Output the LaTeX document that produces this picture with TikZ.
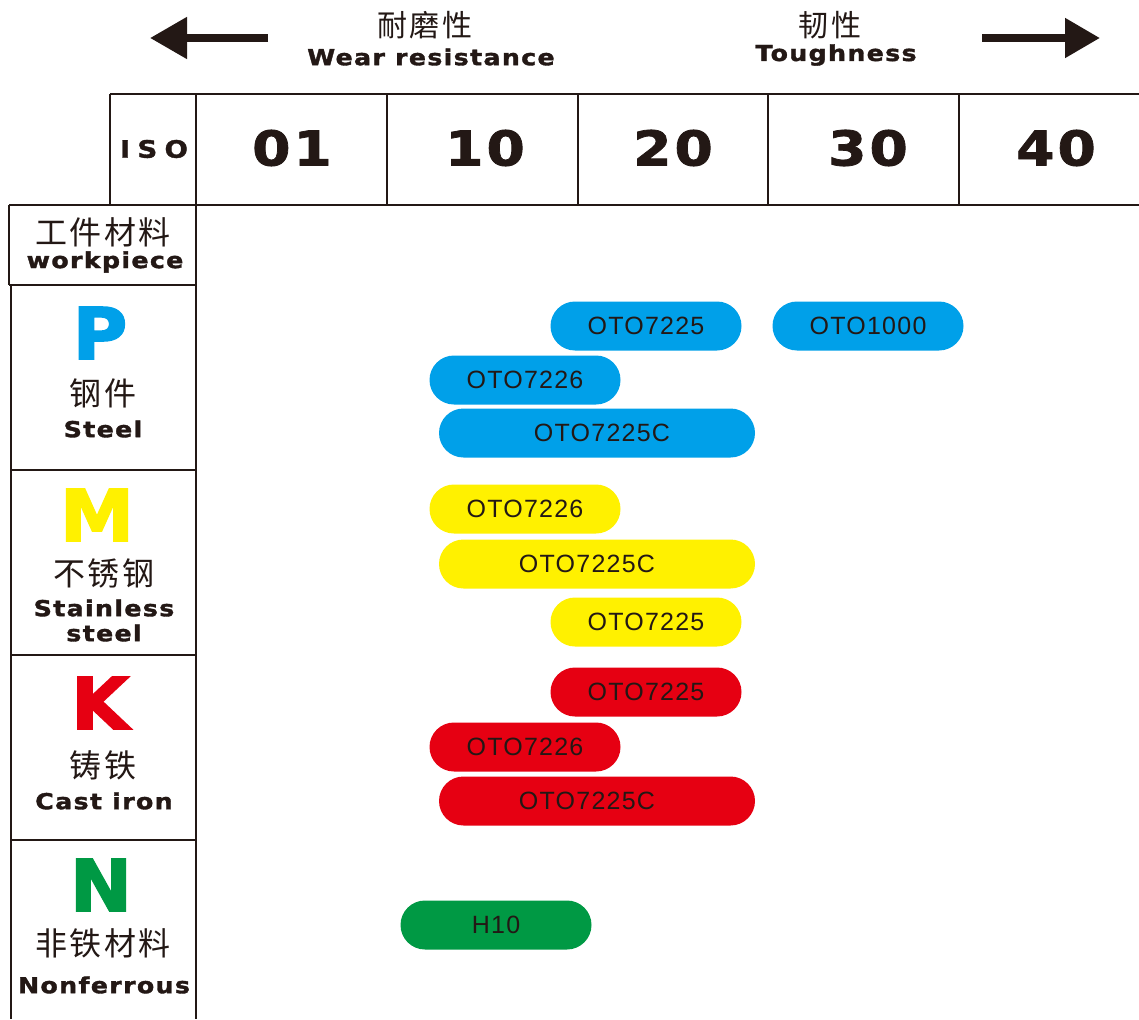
\documentclass[tikz,border=0pt]{standalone}
\usepackage{fontspec}
\usetikzlibrary{arrows.meta}
\setmainfont{Liberation Sans}
\newfontfamily\cjkfont[LetterSpace=8]{Noto Sans CJK SC}
\newfontfamily\heavyfont[FakeStretch=1.15,LetterSpace=6,FakeBold=1.6]{DejaVu Sans Bold}
\newfontfamily\isofont[FakeStretch=1.15,LetterSpace=30,FakeBold=1.6]{DejaVu Sans Bold}
\newfontfamily\letterfont[FakeStretch=1.05,FakeBold=2.5]{DejaVu Sans Bold}
\newfontfamily\pillfont[LetterSpace=5]{Liberation Sans}
\newcommand\setfs[1]{\fontsize{#1}{#1}\selectfont}
\definecolor{ink}{HTML}{231815}
\definecolor{oblue}{HTML}{00A0E9}
\definecolor{oyellow}{HTML}{FFF100}
\definecolor{ored}{HTML}{E60012}
\definecolor{ogreen}{HTML}{009944}

\begin{document}
\begin{tikzpicture}[x=1pt,y=-1pt,line width=1.4pt]
    \tikzstyle{every node}=[inner sep=0pt,text=ink]
    \tikzstyle{pill}=[rounded corners=24.5pt,minimum width=191pt,minimum height=49pt,font=\pillfont\setfs{25}]
    \tikzstyle{wide}=[minimum width=316pt]
    \tikzstyle{zh}=[font=\cjkfont\setfs{32}]
    \tikzstyle{en}=[font=\heavyfont\setfs{22}]
    \useasboundingbox[fill=white] (0,0) rectangle (1139,1019);

    % direction arrows
    \coordinate (wear end) at (268,38);
    \coordinate (wear tip) at (150,38);
    \coordinate (tough end) at (982,38);
    \coordinate (tough tip) at (1100,38);
    \draw[ink,line width=8pt,-{Triangle[length=37pt,width=40pt]}] (wear end)--(wear tip);
    \draw[ink,line width=8pt,-{Triangle[length=35pt,width=38pt]}] (tough end)--(tough tip);
    \node[zh,font=\cjkfont\setfs{30}] (wear zh) at (425,25) {耐磨性};
    \node[en] (wear en) at (431,57) {Wear resistance};
    \node[zh,font=\cjkfont\setfs{30}] (tough zh) at (830,25) {韧性};
    \node[en] (tough en) at (836,55) {Toughness};

    % table lines
    \draw[ink] (110,94)--(1139,94) (9,205)--(1139,205) (110,94)--(110,205);
    \foreach \x in {196,387,578,768,959}
        {
            \draw[ink](\x,94)--(\x,205);
        }
    \draw[ink] (9,205)--(9,285) (196,205)--(196,1019) (11,285)--(11,1019);
    \draw[ink] (9,285)--(196,285);
    \foreach \y in {470,655,840}
        {
            \draw[ink](11,\y)--(196,\y);
        }

    % iso grades
    \node (iso) at (154,149) {\isofont\setfs{24}ISO};
    \foreach \x/\g in {292/01,485/10,673/20,868/30,1056/40}
        {
            \node (grade\g) at (\x,148) {\heavyfont\setfs{48}\g};
        }

    % workpiece groups
    \node[zh] (wp zh) at (103,232) {工件材料};
    \node[en] (wp en) at (105,262) {workpiece};
    \node[text=oblue] (P) at (100,333) {\letterfont\setfs{71}P};
    \node[zh] (P zh) at (103,393) {钢件};
    \node[en] (P en) at (103,429) {Steel};
    \node[text=oyellow] (M) at (97,515) {\letterfont\setfs{71}M};
    \node[zh] (M zh) at (104,573) {不锈钢};
    \node[en] (M en) at (104,608) {Stainless};
    \node[en] (M en2) at (104,633) {steel};
    \node[text=ored] (K) at (100,703) {\letterfont\setfs{71}K};
    \node[zh] (K zh) at (103,765) {铸铁};
    \node[en] (K en) at (104,801) {Cast iron};
    \node[text=ogreen] (N) at (101,885) {\letterfont\setfs{71}N};
    \node[zh] (N zh) at (103,943) {非铁材料};
    \node[en] (N en) at (104,985) {Nonferrous};

    % grades of P
    \node[pill,fill=oblue] (P7225) at (646,326) {OTO7225};
    \node[pill,fill=oblue] (P1000) at (868,326) {OTO1000};
    \node[pill,fill=oblue] (P7226) at (525,380) {OTO7226};
    \node[pill,wide,fill=oblue] (P7225C) at (597,433) {\kern10pt OTO7225C};
    % grades of M
    \node[pill,fill=oyellow] (M7226) at (525,509) {OTO7226};
    \node[pill,wide,fill=oyellow] (M7225C) at (597,564) {OTO7225C\kern20pt};
    \node[pill,fill=oyellow] (M7225) at (646,622) {OTO7225};
    % grades of K
    \node[pill,fill=ored] (K7225) at (646,692) {OTO7225};
    \node[pill,fill=ored] (K7226) at (525,747) {OTO7226};
    \node[pill,wide,fill=ored] (K7225C) at (597,801) {OTO7225C\kern20pt};
    % grades of N
    \node[pill,fill=ogreen] (NH10) at (496,925) {H10};
\end{tikzpicture}
\end{document}
